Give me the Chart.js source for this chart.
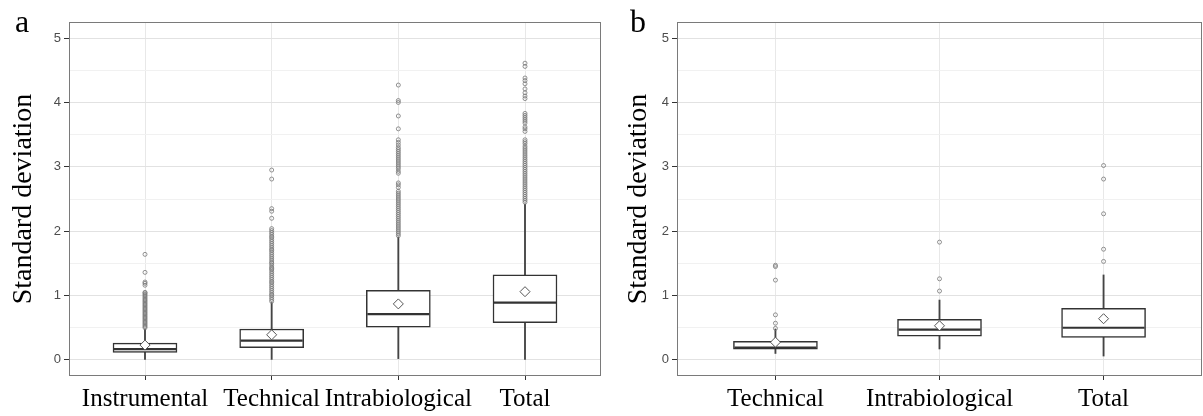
<!DOCTYPE html>
<html>
<head>
<meta charset="utf-8">
<script src="https://cdn.jsdelivr.net/npm/chart.js@4.4.0/dist/chart.umd.min.js"></script>
<style>
  body { margin: 0; background: #fff; width: 1203px; height: 416px; position: relative; overflow: hidden; }
  canvas { position: absolute; top: 0; }
  .tag { position: absolute; top: 5px; font: 32px/1 "Liberation Serif", serif; color: #000; z-index: 2; }
</style>
</head>
<body>
<canvas id="chartA" width="605" height="416" style="left:0"></canvas>
<canvas id="chartB" width="598" height="416" style="left:605px"></canvas>
<div class="tag" style="left:15px">a</div>
<div class="tag" style="left:630px">b</div>
<script>
// y ticks shared by both panels (0.5 steps are the minor grid)
const yTicks = [0, 0.5, 1, 1.5, 2, 2.5, 3, 3.5, 4, 4.5, 5];

// panel a
const catsA = ["Instrumental", "Technical", "Intrabiological", "Total"];
const loA   = [0.0, 0.0, 0.02, 0.0];
const q1A   = [0.115, 0.19, 0.51, 0.58];
const medA  = [0.167, 0.30, 0.71, 0.89];
const q3A   = [0.26, 0.48, 1.08, 1.32];
const hiA   = [0.48, 0.89, 1.91, 2.42];
const meanA = [0.23, 0.39, 0.87, 1.06];
const outA = [
  [1.64, 1.36, 1.21, 1.19, 1.16, 1.05, 1.04, 1.02, 1.0, 0.98, 0.96, 0.94, 0.92, 0.9, 0.88, 0.86, 0.84,
   0.82, 0.8, 0.78, 0.76, 0.74, 0.72, 0.7, 0.68, 0.66, 0.64, 0.62, 0.6, 0.58, 0.56, 0.54, 0.52, 0.5],
  [2.95, 2.81, 2.35, 2.31, 2.2, 2.04, 2.01, 1.98, 1.95, 1.92, 1.9, 1.87, 1.84, 1.81, 1.78, 1.75, 1.72,
   1.7, 1.67, 1.64, 1.61, 1.58, 1.55, 1.52, 1.5, 1.47, 1.44, 1.42, 1.4, 1.37, 1.34, 1.31, 1.28, 1.25,
   1.22, 1.2, 1.17, 1.14, 1.11, 1.08, 1.05, 1.02, 1.0, 0.97, 0.94, 0.91],
  [4.27, 4.03, 4.0, 3.79, 3.59, 3.42, 3.38, 3.34, 3.3, 3.27, 3.24, 3.21, 3.18, 3.15, 3.12, 3.09, 3.06,
   3.03, 3.0, 2.97, 2.93, 2.9, 2.75, 2.72, 2.68, 2.62, 2.59, 2.56, 2.53, 2.5, 2.47, 2.44, 2.41, 2.38,
   2.35, 2.32, 2.29, 2.26, 2.23, 2.2, 2.17, 2.14, 2.11, 2.08, 2.05, 2.02, 1.99, 1.96, 1.93],
  [4.61, 4.56, 4.38, 4.34, 4.29, 4.21, 4.15, 4.1, 4.06, 3.83, 3.8, 3.77, 3.74, 3.71, 3.68, 3.62, 3.59,
   3.55, 3.42, 3.39, 3.36, 3.32, 3.29, 3.26, 3.23, 3.2, 3.17, 3.14, 3.11, 3.08, 3.05, 3.02, 2.99, 2.96,
   2.93, 2.9, 2.87, 2.84, 2.81, 2.78, 2.75, 2.72, 2.69, 2.66, 2.63, 2.6, 2.57, 2.54, 2.51, 2.48, 2.45],
];

// panel b
const catsB = ["Technical", "Intrabiological", "Total"];
const loB   = [0.10, 0.17, 0.06];
const q1B   = [0.166, 0.37, 0.35];
const medB  = [0.19, 0.47, 0.50];
const q3B   = [0.29, 0.63, 0.80];
const hiB   = [0.48, 0.93, 1.32];
const meanB = [0.275, 0.53, 0.64];
const outB = [
  [1.47, 1.45, 1.24, 0.70, 0.57, 0.49],
  [1.83, 1.26, 1.07],
  [3.02, 2.81, 2.27, 1.72, 1.53],
];

Chart.defaults.font.family = "'Liberation Sans', Arial, sans-serif";
Chart.defaults.color = "#4d4d4d";

const panelBorder = {
  id: "panelBorder",
  afterDatasetsDraw(chart) {
    const { ctx, chartArea: a } = chart;
    ctx.save();
    ctx.strokeStyle = "#7a7a7a";
    ctx.lineWidth = 1;
    ctx.strokeRect(a.left + 0.5, a.top + 0.5, a.width - 1, a.height - 1);
    ctx.restore();
  },
};

function pts(vals) {
  return vals.map((v, i) => ({ x: i + 1, y: v }));
}

// kill the auto label overhang padding so the plot area sits where we want it
function noPad(s) {
  s.paddingLeft = 0;
  s.paddingRight = 0;
  s.paddingTop = 0;
  s.paddingBottom = 0;
}

function mkBoxChart(id, cats, lo, q1, med, q3, hi, mean, outs, o) {
  const outliers = [];
  outs.forEach((list, i) => list.forEach(v => outliers.push({ x: i + 1, y: v })));

  return new Chart(document.getElementById(id), {
    type: "bar",
    data: {
      datasets: [
        {
          label: "whisker",
          data: lo.map((v, i) => ({ x: i + 1, y: [v, hi[i]] })),
          backgroundColor: "#444",
          barThickness: 1.2,
          grouped: false,
          order: 5,
        },
        {
          label: "box",
          data: q1.map((v, i) => ({ x: i + 1, y: [v, q3[i]] })),
          backgroundColor: "#fff",
          borderColor: "#333",
          borderWidth: 1.5,
          borderSkipped: false,
          barThickness: o.boxW,
          grouped: false,
          order: 4,
        },
        {
          type: "scatter",
          label: "median",
          data: pts(med),
          pointStyle: "line",
          pointRadius: o.boxW / 2 - 1,
          borderColor: "#333",
          borderWidth: 2.2,
          order: 3,
        },
        {
          type: "scatter",
          label: "mean",
          data: pts(mean),
          pointStyle: "rectRot",
          pointRadius: 5,
          backgroundColor: "#fff",
          borderColor: "#555",
          borderWidth: 1,
          order: 2,
        },
        {
          type: "scatter",
          label: "outliers",
          data: outliers,
          pointStyle: "circle",
          pointRadius: 2,
          backgroundColor: "rgba(255,255,255,0)",
          borderColor: "#777",
          borderWidth: 0.8,
          order: 1,
        },
      ],
    },
    options: {
      responsive: false,
      animation: false,
      events: [],
      devicePixelRatio: 1,
      layout: { autoPadding: false, padding: { top: 22, right: o.padRight, bottom: 0, left: 0 } },
      plugins: { legend: { display: false }, tooltip: { enabled: false } },
      scales: {
        x: {
          type: "linear",
          offset: false,
          min: 0.4,
          max: cats.length + 0.6,
          afterBuildTicks: s => { s.ticks = cats.map((c, i) => ({ value: i + 1 })); },
          afterFit: s => { s.height = 40; noPad(s); },
          border: { display: false },
          grid: { offset: false, color: "#e8e8e8", tickColor: "#333", tickLength: 4 },
          ticks: {
            autoSkip: false,
            maxRotation: 0,
            padding: 4,
            color: "#000",
            font: { family: "'Liberation Serif', 'Times New Roman', serif", size: 25 },
            callback: v => cats[v - 1],
          },
        },
        y: {
          type: "linear",
          min: -0.25,
          max: 5.25,
          afterBuildTicks: s => { s.ticks = yTicks.map(v => ({ value: v })); },
          afterFit: s => { s.width = o.yW; noPad(s); },
          border: { display: false },
          grid: {
            color: c => (c.tick && c.tick.value % 1 === 0 ? "#e2e2e2" : "#f1f1f1"),
            tickColor: c => (c.tick && c.tick.value % 1 === 0 ? "#333" : "rgba(0,0,0,0)"),
            tickLength: 5,
          },
          ticks: {
            padding: 3,
            font: { size: 13 },
            callback: v => (v % 1 === 0 ? v : ""),
          },
          title: {
            display: true,
            text: "Standard deviation",
            color: "#000",
            padding: { top: o.titlePad, bottom: 0 },
            font: { family: "'Liberation Serif', 'Times New Roman', serif", size: 28 },
          },
        },
      },
    },
    plugins: [panelBorder],
  });
}

mkBoxChart("chartA", catsA, loA, q1A, medA, q3A, hiA, meanA, outA,
  { boxW: 64, yW: 69, padRight: 4, titlePad: 7 });
mkBoxChart("chartB", catsB, loB, q1B, medB, q3B, hiB, meanB, outB,
  { boxW: 84, yW: 72, padRight: 1, titlePad: 17 });
</script>
</body>
</html>
